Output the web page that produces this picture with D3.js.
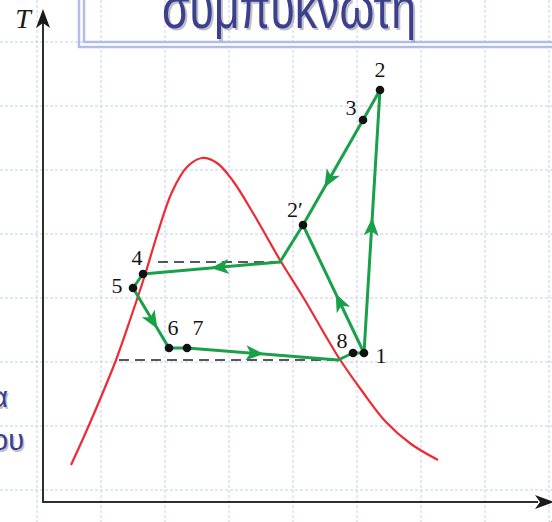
<!DOCTYPE html>
<html><head><meta charset="utf-8">
<script src="https://cdn.jsdelivr.net/npm/d3@7"></script>
<style>html,body{margin:0;padding:0;background:#fff;overflow:hidden}</style>
</head><body>
<svg id="c" width="552" height="522"></svg>
<script>
// ---- data (s, T in arbitrary chart units) ----
const pointNames = ["1","2","3","2′","4","5","6","7","8"];
const pointS = [6.42, 6.74, 6.40, 5.20, 2.00, 1.80, 2.52, 2.88, 6.20];
const pointT = [2.98, 8.24, 7.64, 5.54, 4.56, 4.28, 3.08, 3.08, 2.98];
// intermediate (unlabelled) corners of the cycle
const junctionS = 4.74, junctionT = 4.80;   // 2' -> 4 meets upper dashed line
const crossS = 5.90, crossT = 2.84;         // 7 -> 8 meets lower dashed line
// saturation dome
const domeS = [0.56,0.86,1.16,1.46,1.74,2.02,2.30,2.58,2.88,3.18,3.48,3.80,4.20,4.74,5.20,5.92,6.38,6.86,7.36,7.90];
const domeT = [0.74,1.40,2.10,2.84,3.64,4.48,5.40,6.20,6.70,6.88,6.78,6.42,5.78,4.84,4.10,2.88,2.22,1.60,1.16,0.84];
// dashed pressure lines: [sStart, sEnd, T]
const dashedLines = [[2.30, 4.74, 4.80],[1.52, 5.90, 2.84]];
// label offsets (px) for the point names
const labelDX = [17, 0, -12, -8, -6, -16, 4, 11, -11];
const labelDY = [10, -13, -5, -8, -9, 5, -13, -13, -5];

const svg = d3.select("#c");
const x = d3.scaleLinear().domain([0,10]).range([43,543]);
const y = d3.scaleLinear().domain([0,10]).range([502,2]);
const P = i => [x(pointS[i]), y(pointT[i])];
const J = [x(junctionS), y(junctionT)];
const K = [x(crossS), y(crossT)];

// ---- slide background grid ----
const gridC = "#c3cdf3";
const g0 = svg.append("g");
d3.range(37, 553, 64).forEach(gx => g0.append("line").attr("x1",gx).attr("x2",gx).attr("y1",0).attr("y2",522)
  .attr("stroke",gridC).attr("stroke-width",1).attr("stroke-dasharray","3,2"));
d3.range(42, 523, 64).forEach(gy => g0.append("line").attr("y1",gy).attr("y2",gy).attr("x1",0).attr("x2",552)
  .attr("stroke",gridC).attr("stroke-width",1).attr("stroke-dasharray","3,2"));

// ---- title box (double border) ----
svg.append("rect").attr("x",79).attr("y",-20).attr("width",520).attr("height",67)
  .attr("fill","none").attr("stroke","#b3bbe9").attr("stroke-width",2.5);
svg.append("rect").attr("x",84).attr("y",-20).attr("width",520).attr("height",62)
  .attr("fill","none").attr("stroke","#b3bbe9").attr("stroke-width",2.5);
const titleStyle = s => s.attr("font-family","'Liberation Sans', Arial, sans-serif").attr("font-size",58)
  .attr("textLength",254).attr("lengthAdjust","spacingAndGlyphs");
svg.append("text").attr("x",164).attr("y",30).attr("fill","#8c8c9c").attr("opacity",0.55)
  .call(titleStyle).text("συμπυκνωτή");
svg.append("text").attr("x",162).attr("y",28).attr("fill","#3b3f8e")
  .call(titleStyle).text("συμπυκνωτή");
// cut-off slide text at left
[["α",8,407],["ου",24,450]].forEach(([t,tx,ty]) => {
  svg.append("text").attr("x",tx+1.5).attr("y",ty+1.5).attr("text-anchor","end").attr("fill","#8c8c9c").attr("opacity",0.55)
    .attr("font-family","'Liberation Sans', Arial, sans-serif").attr("font-size",29).text(t);
  svg.append("text").attr("x",tx).attr("y",ty).attr("text-anchor","end").attr("fill","#3b3f8e")
    .attr("font-family","'Liberation Sans', Arial, sans-serif").attr("font-size",29).text(t);
});

// ---- axes ----
const axC = "#2e2e2e";
svg.append("line").attr("x1",x(0)).attr("x2",x(0)).attr("y1",y(0)+1).attr("y2",20).attr("stroke",axC).attr("stroke-width",2);
svg.append("line").attr("x1",x(0)-1).attr("x2",538).attr("y1",y(0)).attr("y2",y(0)).attr("stroke",axC).attr("stroke-width",2);
svg.append("path").attr("d",`M${x(0)},9 L${x(0)-7},28 L${x(0)},23 L${x(0)+7},28 Z`).attr("fill","#1a1a1a");
svg.append("path").attr("d",`M554,${y(0)} L535,${y(0)-7} L540,${y(0)} L535,${y(0)+7} Z`).attr("fill","#1a1a1a");
svg.append("text").attr("x",23).attr("y",28).attr("text-anchor","middle").attr("font-family","'Liberation Serif', serif")
  .attr("font-style","italic").attr("font-size",28).attr("fill","#1a1a1a").text("T");
svg.append("text").attr("x",553).attr("y",533).attr("text-anchor","middle").attr("font-family","'Liberation Serif', serif")
  .attr("font-style","italic").attr("font-size",26).attr("fill","#1a1a1a").text("s");

// ---- dome ----
svg.append("path").datum(d3.range(domeS.length))
  .attr("d", d3.line().x(i=>x(domeS[i])).y(i=>y(domeT[i])).curve(d3.curveCatmullRom.alpha(0.5)))
  .attr("fill","none").attr("stroke","#ee2a33").attr("stroke-width",2.2);

// ---- dashed lines ----
dashedLines.forEach(([a,b,t]) => svg.append("line").attr("x1",x(a)).attr("x2",x(b)).attr("y1",y(t)).attr("y2",y(t))
  .attr("stroke","#222").attr("stroke-width",1.4).attr("stroke-dasharray","10,6"));

// ---- cycle ----
const green = "#1ba04a";
const segs = [
  [P(0), P(1), 0.48],   // 1 -> 2
  [P(1), P(2), null],   // 2 -> 3
  [P(2), P(3), 0.57],   // 3 -> 2'
  [P(0), P(3), 0.40],   // 1 -> 2'
  [P(3), J, null],      // 2' -> junction
  [J, P(4), 0.44],      // junction -> 4
  [P(4), P(5), null],   // 4 -> 5
  [P(5), P(6), 0.55],   // 5 -> 6
  [P(6), P(7), null],   // 6 -> 7
  [P(7), K, 0.45],      // 7 -> cross
  [K, P(8), null],      // cross -> 8
  [P(8), P(0), null]    // 8 -> 1
];
const gc = svg.append("g");
segs.forEach(([a,b]) => gc.append("line").attr("x1",a[0]).attr("y1",a[1]).attr("x2",b[0]).attr("y2",b[1])
  .attr("stroke",green).attr("stroke-width",3).attr("stroke-linecap","round"));
segs.filter(s=>s[2]!==null).forEach(([a,b,t]) => {
  const px = a[0]+(b[0]-a[0])*t, py = a[1]+(b[1]-a[1])*t;
  const ang = Math.atan2(b[1]-a[1], b[0]-a[0])*180/Math.PI;
  gc.append("path").attr("d","M9,0 L-9,-7.5 L-4.5,0 L-9,7.5 Z").attr("fill",green)
    .attr("transform",`translate(${px},${py}) rotate(${ang})`);
});

// ---- state points and labels ----
pointNames.forEach((n,i) => {
  const [px,py] = P(i);
  svg.append("circle").attr("cx",px).attr("cy",py).attr("r",4.3).attr("fill","#111");
  svg.append("text").attr("x",px+labelDX[i]).attr("y",py+labelDY[i]).attr("text-anchor","middle")
    .attr("font-family","'Liberation Serif', serif").attr("font-size",22).attr("fill","#151515").text(n);
});
</script>
</body></html>
